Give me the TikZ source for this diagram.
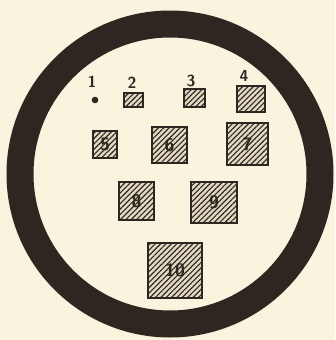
\documentclass[tikz,border=0pt]{standalone}
\usetikzlibrary{patterns.meta}
\definecolor{paper}{HTML}{F8F4DE}
\definecolor{ink}{HTML}{2F2622}
\definecolor{boxfill}{HTML}{E2DAC2}
\tikzset{
  pad/.style={draw=ink, line width=1.4pt, fill=boxfill, inner sep=0pt,
    postaction={pattern={Lines[angle=45,distance=3.8pt,line width=1.1pt]}, pattern color=ink},
    font=\sffamily\bfseries\fontsize{18}{18}\selectfont, text=ink},
  lbl/.style={inner sep=0pt, font=\sffamily\bfseries\fontsize{16}{16}\selectfont, text=ink}
}
\begin{document}
\begin{tikzpicture}[x=1pt,y=-1pt]
\useasboundingbox (0,0) rectangle (335,340);
\fill[paper] (0,0) rectangle (335,340);
\draw[ink, line width=27pt] (170,174) circle (150);
% pin 1
\fill[ink] (95,100) circle (3.3) coordinate (p1);
\node[lbl] (l1) at (92,82) {1};
% pads
\node[pad, minimum width=19, minimum height=14] (p2) at (133.5,100) {};
\node[lbl] (l2) at (132,83) {2};
\node[pad, minimum width=21, minimum height=18] (p3) at (194.5,98) {};
\node[lbl] (l3) at (191,81) {3};
\node[pad, minimum width=28, minimum height=26] (p4) at (251,99) {};
\node[lbl] (l4) at (244,76) {4};
\node[pad, minimum width=24, minimum height=27] (p5) at (105,144.5) {5};
\node[pad, minimum width=35, minimum height=36] (p6) at (169.5,145) {6};
\node[pad, minimum width=41, minimum height=42] (p7) at (247.5,144) {7};
\node[pad, minimum width=35, minimum height=38] (p8) at (136.5,201) {8};
\node[pad, minimum width=46, minimum height=41] (p9) at (214,202.5) {9};
\node[pad, minimum width=54, minimum height=55] (p10) at (175,270.5) {10};
\end{tikzpicture}
\end{document}
